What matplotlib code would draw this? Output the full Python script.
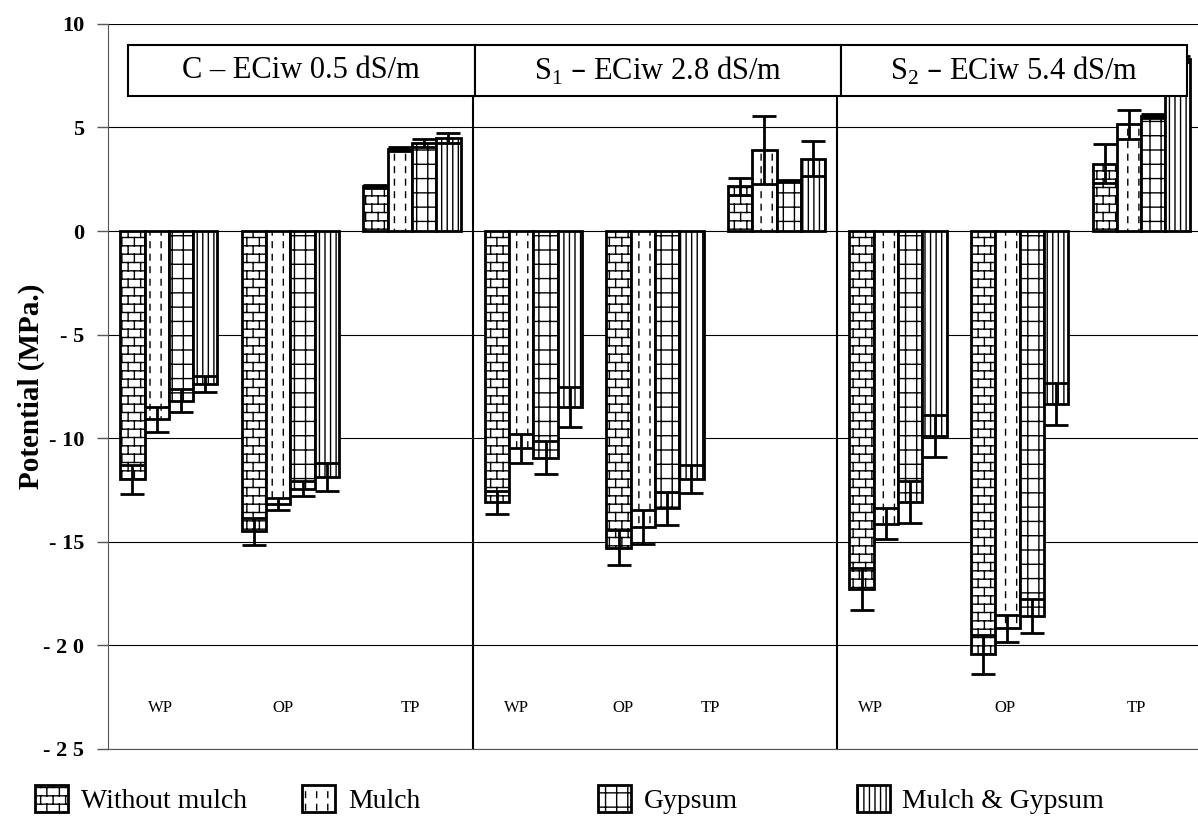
import warnings
import numpy as np
import matplotlib
matplotlib.use("Agg")
import matplotlib.pyplot as plt
import matplotlib.hatch as mhatch
from matplotlib.path import Path
from matplotlib.patches import Rectangle

warnings.filterwarnings("ignore", message="hatch must consist")

# ---------------------------------------------------------------------
# data
# ---------------------------------------------------------------------
group_labels = ["WP", "OP", "TP"] * 3
panel_titles = [
    "C – ECiw 0.5 dS/m",
    r"S$_\mathregular{1}$ – ECiw 2.8 dS/m",
    r"S$_\mathregular{2}$ – ECiw 5.4 dS/m",
]
series_names = ["Without mulch", "Mulch", "Gypsum", "Mulch & Gypsum"]

without_mulch = [-12.0, -14.5, 2.15, -13.1, -15.3, 2.15, -17.3, -20.45, 3.25]
without_mulch_err = [0.7, 0.65, 0.05, 0.55, 0.85, 0.4, 1.0, 0.95, 0.95]
mulch = [-9.1, -13.2, 3.95, -10.5, -14.3, 3.9, -14.15, -19.2, 5.15]
mulch_err = [0.6, 0.3, 0.1, 0.7, 0.8, 1.65, 0.75, 0.65, 0.7]
gypsum = [-8.2, -12.45, 4.25, -10.95, -13.4, 2.4, -13.1, -18.6, 5.55]
gypsum_err = [0.55, 0.37, 0.2, 0.8, 0.8, 0.05, 1.0, 0.8, 0.1]
mulch_gypsum = [-7.4, -11.9, 4.5, -8.5, -12.0, 3.5, -9.9, -8.35, 8.3]
mulch_gypsum_err = [0.4, 0.68, 0.25, 0.95, 0.68, 0.85, 1.0, 1.0, 0.15]

ytick_values = [10, 5, 0, -5, -10, -15, -20, -25]
ytick_labels = ["10", "5", "0", "- 5", "- 10", "- 15", "- 2 0", "- 2 5"]

# ---------------------------------------------------------------------
# layout
# ---------------------------------------------------------------------
label_x = [0.43, 1.44, 2.49, 3.36, 4.24, 4.96, 6.27, 7.38, 8.46]
box_edges = [0.16, 3.02, 6.03, 8.88]
legend_x = [0.029, 0.252, 0.499, 0.715]
BAR_W = 0.2


# ---------------------------------------------------------------------
# extra hatch patterns (brick, dashed verticals, grid)
# ---------------------------------------------------------------------
class SegmentHatch(mhatch.HatchPatternBase):
    key = ""

    def __init__(self, hatch, density):
        n = hatch.count(self.key) if self.key else 0
        self.segs = np.asarray(self.make(n), float) if n else np.empty((0, 2, 2))
        self.num_vertices = 2 * len(self.segs)

    def set_vertices_and_codes(self, vertices, codes):
        vertices[:] = self.segs.reshape(-1, 2)
        codes[0::2] = Path.MOVETO
        codes[1::2] = Path.LINETO


class BrickHatch(SegmentHatch):
    key = "b"

    def make(self, n):
        rows, cols = 12 * n, 8 * n
        segs = [((0, (i + 0.5) / rows), (1, (i + 0.5) / rows)) for i in range(rows)]
        for i in range(rows + 1):
            y0 = max(0.0, (i - 0.5) / rows)
            y1 = min(1.0, (i + 0.5) / rows)
            shift = 0.5 * (i % 2)
            for k in range(cols):
                xk = (k + 0.25 + shift) / cols
                segs.append(((xk, y0), (xk, y1)))
        return segs


class DashHatch(SegmentHatch):
    key = "d"

    def make(self, n):
        cols, dashes = 9 * n, 8
        segs = []
        for k in range(cols):
            xk = (k + 0.5) / cols
            for j in range(dashes):
                segs.append(((xk, (j + 0.2) / dashes), (xk, (j + 0.65) / dashes)))
        return segs


class GridHatch(SegmentHatch):
    key = "g"

    def make(self, n):
        segs = [((0, (i + 0.5) / 7), (1, (i + 0.5) / 7)) for i in range(7 * n)]
        segs += [(((k + 0.5) / 9, 0), ((k + 0.5) / 9, 1)) for k in range(9 * n)]
        return segs


mhatch._hatch_types.extend([BrickHatch, DashHatch, GridHatch])

plt.rcParams["font.family"] = "Liberation Serif"
plt.rcParams["hatch.linewidth"] = 1.0

fig = plt.figure(figsize=(11.98, 8.33), dpi=100)
ax = fig.add_axes([0.0902, 0.1014, 0.9131, 0.8698])

values = [without_mulch, mulch, gypsum, mulch_gypsum]
errors = [without_mulch_err, mulch_err, gypsum_err, mulch_gypsum_err]
hatches = ["b", "d", "g", "|||"]

x = np.arange(len(group_labels)) + 0.5
containers = []
for j, (vals, errs, hatch) in enumerate(zip(values, errors, hatches)):
    pos = x + (j - 1.5) * BAR_W
    bars = ax.bar(pos, vals, BAR_W, color="white", edgecolor="black",
                  linewidth=2, hatch=hatch, zorder=2)
    ax.errorbar(pos, vals, yerr=errs, fmt="none", ecolor="black",
                elinewidth=2, capsize=8.5, capthick=2, zorder=3)
    containers.append(bars)

ax.set_xlim(0, 9)
ax.set_ylim(-25, 10)
ax.set_xticks([])
ax.set_yticks(ytick_values, ytick_labels, fontsize=16, fontweight="bold")
ax.tick_params(axis="y", length=8, width=1, color="#555555", pad=9)
ax.set_axisbelow(True)
ax.yaxis.grid(True, color="black", linewidth=0.8)
for side in ["top", "right"]:
    ax.spines[side].set_visible(False)
ax.spines["left"].set_color("#555555")
ax.spines["bottom"].set_color("#555555")

ax.set_ylabel("Potential (MPa.)", fontsize=21, fontweight="bold")
ax.yaxis.set_label_coords(-0.058, 0.5)

# panel separators and header boxes
ax.vlines([3, 6], -25, 6.6, color="black", linewidth=1.5, zorder=2)
for i, title in enumerate(panel_titles):
    x0, x1 = box_edges[i], box_edges[i + 1]
    ax.add_patch(Rectangle((x0, 6.5), x1 - x0, 2.5, facecolor="white",
                           edgecolor="black", linewidth=1.5, zorder=4))
    ax.text((x0 + x1) / 2, 7.75, title, ha="center", va="center",
            fontsize=22, zorder=5)

for xl, lbl in zip(label_x, group_labels):
    ax.text(xl, -23.05, lbl, ha="center", va="center", fontsize=12)

for bars, name, lx in zip(containers, series_names, legend_x):
    fig.legend([bars], [name], loc="center left", bbox_to_anchor=(lx, 0.04),
               frameon=False, fontsize=20, handlelength=1.2, handleheight=1.1,
               handletextpad=0.45, borderpad=0, borderaxespad=0)

fig.savefig("out.png", dpi=100)
